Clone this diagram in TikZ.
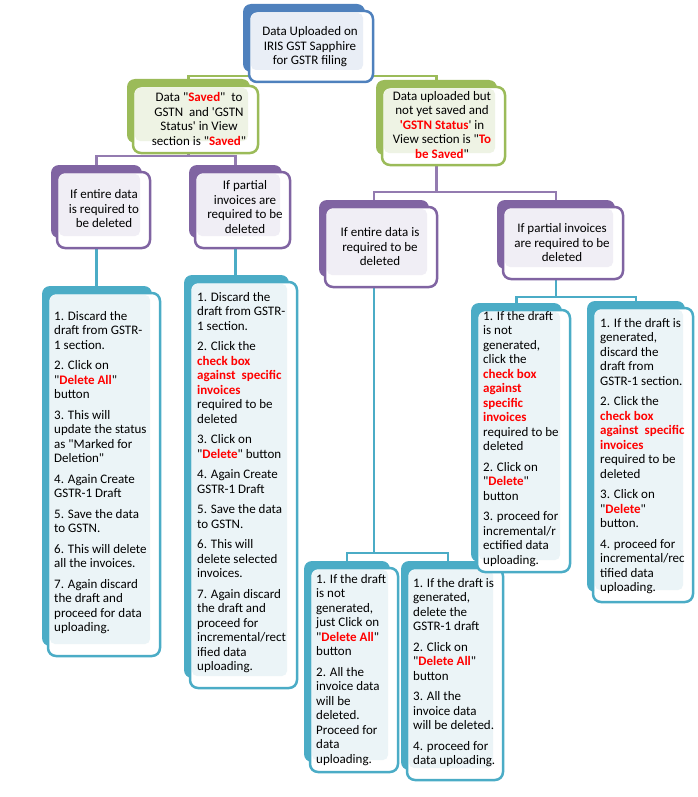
\documentclass[tikz,border=0pt]{standalone}
\usepackage{fontspec}
\setmainfont{Carlito}
\usetikzlibrary{calc}
\definecolor{blueC}{HTML}{4F81BD}
\definecolor{blueL}{HTML}{E9EEF6}
\definecolor{greenC}{HTML}{9BBB59}
\definecolor{greenL}{HTML}{EEF3E4}
\definecolor{purpleC}{HTML}{8064A2}
\definecolor{purpleL}{HTML}{F0EEF5}
\definecolor{tealC}{HTML}{4BACC6}
\definecolor{tealL}{HTML}{EBF4F7}
\definecolor{redT}{HTML}{FF0000}
\pgfdeclarelayer{background}
\pgfsetlayers{background,main}
\newcommand\rd[1]{\textcolor{redT}{\textbf{#1}}}
\newcommand\sq{\textquotesingle}
\newcommand\dq{\textquotedbl}
% #1 name, #2 kind, #3-#6 front box x1,y1,x2,y2, #7,#8 text position, #9 text
\newcommand\card[9]{%
  \node[#2back, anchor=north west, minimum width={#5-#3-2}, minimum height={#6-#4-3}] (#1b) at (#3-6,#4-7) {};
  \node[#2front, anchor=north west, minimum width={#5-#3}, minimum height={#6-#4}] (#1) at (#3,#4) {};
  \node[#2text] (#1t) at (#7,#8) {#9};
}
\begin{document}
\begin{tikzpicture}[x=1pt,y=-1pt,
  cardback/.style={fill=#1, draw=none, rounded corners=8pt, inner sep=0pt, outer sep=0pt},
  cardfront/.style={fill=white, draw=#1, line width=2.5pt, rounded corners=8pt, inner sep=0pt, outer sep=0pt},
  lightfill/.style={path picture={\fill[#1, rounded corners=5pt]
      ([shift={(2pt,-2pt)}]path picture bounding box.north west) rectangle
      ([shift={(-10pt,12pt)}]path picture bounding box.south east);}},
  ctext/.style={font=\fontsize{13}{14.5}\selectfont, align=center, inner sep=0pt, anchor=center},
  ltext/.style={font=\fontsize{13}{14.5}\selectfont, align=left, inner sep=0pt, anchor=north west},
  blueback/.style={cardback=blueC},
  bluefront/.style={cardfront=blueC, lightfill=blueL},
  bluetext/.style={ctext},
  greenback/.style={cardback=greenC},
  greenfront/.style={cardfront=greenC, lightfill=greenL},
  greentext/.style={ctext},
  purpleback/.style={cardback=purpleC},
  purplefront/.style={cardfront=purpleC, lightfill=purpleL},
  purpletext/.style={ctext},
  tealback/.style={cardback=tealC},
  tealfront/.style={cardfront=tealC, lightfill=tealL},
  tealtext/.style={ltext},
  gline/.style={draw=greenC, line width=2.2pt},
  pline/.style={draw=purpleC!85!white, line width=2.5pt},
  tline/.style={draw=tealC, line width=2.5pt}
]
\useasboundingbox (0,0) rectangle (697,797);

\card{top}{blue}{249}{11}{373}{82}{310}{47}{Data Uploaded on\\IRIS GST Sapphire\\for GSTR filing}
\card{ga}{green}{133}{86}{258}{153}{199}{119}{Data \dq\rd{Saved}\dq\ \ to\\GSTN\ \ and \sq GSTN\\Status\sq\ in View\\section is \dq\rd{Saved}\dq}
\card{gb}{green}{382}{87}{505}{165}{442}{125}{Data uploaded but\\not yet saved and\\\rd{\sq GSTN Status}\sq\ in\\View section is \dq\rd{To}\\\rd{be Saved}\dq}
\card{pa}{purple}{57}{172}{150}{248}{104}{209}{If entire data\\is required to\\be deleted}
\card{pb}{purple}{195}{172}{290}{248}{245}{207}{If partial\\invoices are\\required to be\\deleted}
\card{pc}{purple}{325}{207}{437}{287}{380}{247}{If entire data is\\required to be\\deleted}
\card{pd}{purple}{503}{207}{623}{279}{562}{243}{If partial invoices\\are required to be\\deleted}

\card{ta}{teal}{48}{293}{160}{656}{54}{311}{1. Discard the\\draft from GSTR-\\1 section.\\[6pt]2. Click on\\\dq\rd{Delete All}\dq\\button\\[6pt]3. This will\\update the status\\as \dq Marked for\\Deletion\dq\\[6pt]4. Again Create\\GSTR-1 Draft\\[6pt]5. Save the data\\to GSTN.\\[6pt]6. This will delete\\all the invoices.\\[6pt]7. Again discard\\the draft and\\proceed for data\\uploading.}
\card{tb}{teal}{190}{282}{297}{688}{197}{292}{1. Discard the\\draft from GSTR-\\1 section.\\[6pt]2. Click the\\\rd{check box}\\\rd{against\ \ specific}\\\rd{invoices}\\required to be\\deleted\\[6pt]3. Click on\\\dq\rd{Delete}\dq\ button\\[6pt]4. Again Create\\GSTR-1 Draft\\[6pt]5. Save the data\\to GSTN.\\[6pt]6. This will\\delete selected\\invoices.\\[6pt]7. Again discard\\the draft and\\proceed for\\incremental/rect\\ified data\\uploading.}
\card{tc}{teal}{310}{568}{398}{772}{316}{574}{1. If the draft\\is not\\generated,\\just Click on\\\dq\rd{Delete All}\dq\\button\\[6pt]2. All the\\invoice data\\will be\\deleted.\\Proceed for\\data\\uploading.}
\card{td}{teal}{407}{568}{503}{780}{413}{578}{1. If the draft is\\generated,\\delete the\\GSTR-1 draft\\[6pt]2. Click on\\\dq\rd{Delete All}\dq\\button\\[6pt]3. All the\\invoice data\\will be deleted.\\[6pt]4. proceed for\\data uploading.}
\card{te}{teal}{477}{310}{570}{572}{483}{311}{1. If the draft\\is not\\generated,\\click the\\\rd{check box}\\\rd{against}\\\rd{specific}\\\rd{invoices}\\required to be\\deleted\\[6pt]2. Click on\\\dq\rd{Delete}\dq\\button\\[6pt]3. proceed for\\incremental/r\\ectified data\\uploading.}
\card{tf}{teal}{593}{308}{693}{602}{600}{318}{1. If the draft is\\generated,\\discard the\\draft from\\GSTR-1 section.\\[6pt]2. Click the\\\rd{check box}\\\rd{against\ \ specific}\\\rd{invoices}\\required to be\\deleted\\[6pt]3. Click on\\\dq\rd{Delete}\dq\\button.\\[6pt]4. proceed for\\incremental/rec\\tified data\\uploading.}

\coordinate (y76) at (0,76);
\coordinate (y156) at (0,156);
\coordinate (y192) at (0,192);
\coordinate (y553) at (0,553);
\coordinate (y297) at (0,297);
\begin{pgfonlayer}{background}
  \coordinate (j1) at (top.center |- y76);
  \draw[gline] (top.center) -- (j1);
  \draw[gline] (gab.center) |- (j1) -| (gbb.center);
  \coordinate (j2) at (gab.center |- y156);
  \draw[pline] (gab.center) -- (j2);
  \draw[pline] (pab.center) |- (j2) -| (pbb.center);
  \coordinate (j3) at (gbb.center |- y192);
  \draw[pline] (gbb.center) -- (j3);
  \draw[pline] (pcb.center) |- (j3) -| (pdb.center);
  \draw[tline] (pab.center) -- (pab.center |- tab.north);
  \draw[tline] (pbb.center) -- (pbb.center |- tbb.north);
  \coordinate (j4) at (pcb.center |- y553);
  \draw[tline] (pcb.center) -- (j4);
  \draw[tline] (tcb.center) |- (j4) -| (tdb.center);
  \coordinate (j5) at (pdb.center |- y297);
  \draw[tline] (pdb.center) -- (j5);
  \draw[tline] (teb.center) |- (j5) -| (tfb.center);
\end{pgfonlayer}
\end{tikzpicture}
\end{document}
